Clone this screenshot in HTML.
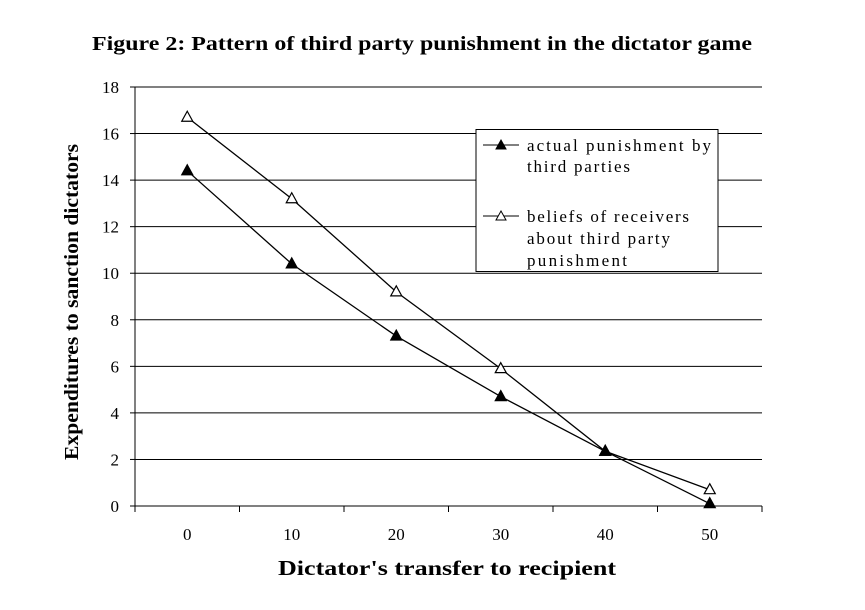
<!DOCTYPE html>
<html><head><meta charset="utf-8"><style>
body{margin:0;background:#fff;}
svg text{font-family:"Liberation Serif",serif;fill:#000;}
</style></head><body>
<svg width="865" height="605" xmlns="http://www.w3.org/2000/svg">
<text x="92" y="50" textLength="660" lengthAdjust="spacingAndGlyphs" font-size="20" font-weight="bold">Figure 2: Pattern of third party punishment in the dictator game</text>
<g id="grid"></g>
<g id="axes"></g>
<g id="series"></g>
<g>
<rect x="476" y="129.5" width="242" height="142" fill="#fff" stroke="#000" stroke-width="1"/>
<line x1="483" y1="145" x2="519" y2="145" stroke="#000"/>
<polygon points="501,140 506,149 496,149" fill="#000" stroke="#000"/>
<text x="527" y="151" textLength="184" lengthAdjust="spacing" font-size="17">actual punishment by</text>
<text x="527" y="172" textLength="103" lengthAdjust="spacing" font-size="17">third parties</text>
<line x1="483" y1="216" x2="519" y2="216" stroke="#000"/>
<polygon points="501,211 506,220 496,220" fill="#fff" stroke="#000"/>
<text x="527" y="222" textLength="162" lengthAdjust="spacing" font-size="17">beliefs of receivers</text>
<text x="527" y="244" textLength="143" lengthAdjust="spacing" font-size="17">about third party</text>
<text x="527" y="266" textLength="100" lengthAdjust="spacing" font-size="17">punishment</text>
</g>
<text x="278" y="575" textLength="338" lengthAdjust="spacingAndGlyphs" font-size="21" font-weight="bold">Dictator's transfer to recipient</text>
<text transform="translate(78,460) rotate(-90)" textLength="316" lengthAdjust="spacingAndGlyphs" font-size="20" font-weight="bold">Expenditures to sanction dictators</text>
</svg>
<script>
const categories=["0","10","20","30","40","50"];
const actual=[14.4,10.4,7.3,4.7,2.35,0.1];
const beliefs=[16.7,13.2,9.2,5.9,2.35,0.7];
const yTicks=[0,2,4,6,8,10,12,14,16,18];
const NS="http://www.w3.org/2000/svg";
const L=135,R=762,T=87,B=506,YMAX=18;
const bw=(R-L)/categories.length;
function x(i){return L+bw*(i+0.5);}
function y(v){return B-(v/YMAX)*(B-T);}
function mk(tag,at,parent){const e=document.createElementNS(NS,tag);for(const k in at)e.setAttribute(k,at[k]);document.getElementById(parent).appendChild(e);return e;}
yTicks.forEach(t=>{
 if(t>0){const g=mk('line',{x1:L,x2:R,y1:y(t),y2:y(t),stroke:'#000','stroke-width':1},'grid');
 
 }
 mk('line',{x1:L-5,x2:L,y1:y(t),y2:y(t),stroke:'#000'},'axes');
 const tx=mk('text',{x:L-16,y:y(t)+6,'text-anchor':'end','font-size':17},'axes');tx.textContent=t;
 
 
});
mk('line',{x1:L,x2:L,y1:T,y2:B,stroke:'#000'},'axes');
mk('line',{x1:L,x2:R,y1:B,y2:B,stroke:'#000'},'axes');
for(let i=0;i<=categories.length;i++){mk('line',{x1:L+bw*i,x2:L+bw*i,y1:B,y2:B+6,stroke:'#000'},'axes');}
categories.forEach((c,i)=>{const tx=mk('text',{x:x(i),y:B+34,'text-anchor':'middle','font-size':17},'axes');tx.textContent=c;
 
 });
function series(vals,fill,name){
 const pl=mk('polyline',{points:vals.map((v,i)=>x(i)+','+y(v)).join(' '),fill:'none',stroke:'#000','stroke-width':1.3},'series');
 
 
 vals.forEach((v,i)=>{const cx=x(i),cy=y(v);
  const p=mk('polygon',{points:`${cx},${cy-6} ${cx+5.5},${cy+4} ${cx-5.5},${cy+4}`,fill:fill,stroke:'#000','stroke-width':1.2},'series');
  
  });
}
series(beliefs,'#fff','beliefs');
series(actual,'#000','actual');
</script>
</body></html>
